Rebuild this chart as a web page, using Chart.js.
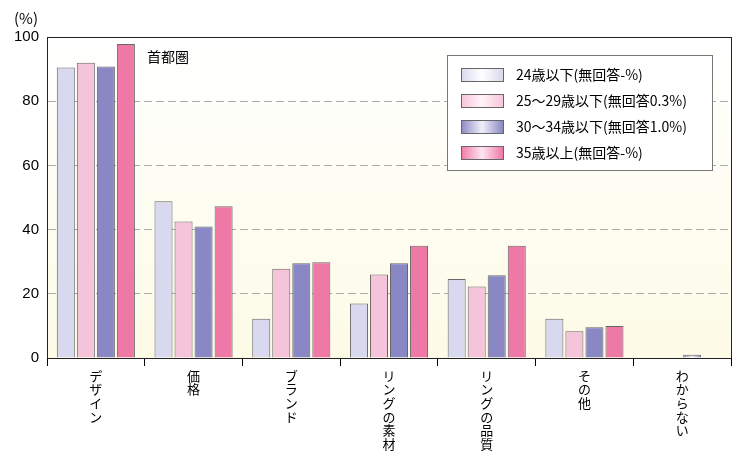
<!DOCTYPE html>
<html>
<head>
<meta charset="utf-8">
<script src="https://cdn.jsdelivr.net/npm/chart.js@4/dist/chart.umd.min.js"></script>
<style>
  body { margin: 0; background: #fff; }
  #wrap { width: 750px; height: 464px; }
</style>
</head>
<body>
<div id="wrap"><canvas id="chart"></canvas></div>
<script>
// データ
const categories = ['デザイン', '価格', 'ブランド', 'リングの素材', 'リングの品質', 'その他', 'わからない'];
const seriesNames = ['24歳以下(無回答-%)', '25～29歳以下(無回答0.3%)', '30～34歳以下(無回答1.0%)', '35歳以上(無回答-%)'];
const age24 = [90.5, 48.8, 12.2, 17.0, 24.6, 12.2, 0];
const age25 = [92.0, 42.5, 27.8, 26.0, 22.3, 8.3, 0];
const age30 = [90.8, 41.0, 29.5, 29.5, 25.8, 9.6, 1.0];
const age35 = [97.8, 47.3, 29.8, 35.0, 35.0, 10.0, 0];
const yTicks = [0, 20, 40, 60, 80, 100];

// 各系列のグラデーション (端の色, 中央の色)
const barColors = [
    ['#d8d8ee', '#ffffff'],
    ['#f6c4da', '#fff4f8'],
    ['#8a88c4', '#f0f0fa'],
    ['#ee78a6', '#fde6ef']
];

function makeGradient(ctx, x0, x1, c) {
    const g = ctx.createLinearGradient(x0, 0, x1, 0);
    g.addColorStop(0, c[0]);
    g.addColorStop(0.5, c[1]);
    g.addColorStop(1, c[0]);
    return g;
}

const decorPlugin = {
    id: 'decor',
    beforeDraw(chart) {
        const { ctx, chartArea: a } = chart;
        const g = ctx.createLinearGradient(0, a.top, 0, a.bottom);
        g.addColorStop(0, '#ffffff');
        g.addColorStop(1, '#fdfbe6');
        ctx.save();
        ctx.fillStyle = g;
        ctx.fillRect(a.left, a.top, a.right - a.left, a.bottom - a.top);
        ctx.restore();
    },
    beforeDatasetsDraw(chart) {
        const ctx = chart.ctx;
        chart.data.datasets.forEach((ds, i) => {
            chart.getDatasetMeta(i).data.forEach(bar => {
                const w = bar.width;
                bar.options.backgroundColor = makeGradient(ctx, bar.x - w / 2, bar.x + w / 2, barColors[i]);
            });
        });
    },
    afterDraw(chart) {
        const { ctx, chartArea: a } = chart;
        ctx.save();
        ctx.strokeStyle = '#222';
        ctx.lineWidth = 1;
        ctx.strokeRect(a.left + 0.5, a.top + 0.5, a.right - a.left, a.bottom - a.top);

        ctx.fillStyle = '#000';
        ctx.font = '15px "Noto Sans CJK JP", sans-serif';
        ctx.textBaseline = 'middle';
        ctx.fillText('(%)', 14, 18);
        ctx.font = '14px "Noto Sans CJK JP", sans-serif';
        ctx.fillText('首都圏', 147, 57);

        // 凡例ボックス
        const bx = 447, by = 55, bw = 265, bh = 115;
        ctx.fillStyle = '#fff';
        ctx.fillRect(bx, by, bw, bh);
        ctx.strokeStyle = '#777';
        ctx.strokeRect(bx + 0.5, by + 0.5, bw, bh);
        ctx.font = '14px "Noto Sans CJK JP", sans-serif';
        seriesNames.forEach((name, i) => {
            const y = by + 19 + i * 26;
            ctx.fillStyle = makeGradient(ctx, bx + 14, bx + 56, barColors[i]);
            ctx.fillRect(bx + 14, y - 6, 42, 13);
            ctx.strokeStyle = '#666';
            ctx.strokeRect(bx + 14.5, y - 5.5, 42, 13);
            ctx.fillStyle = '#000';
            ctx.fillText(name, bx + 69, y + 1);
        });
        ctx.restore();
    }
};

new Chart(document.getElementById('chart'), {
    type: 'bar',
    data: {
        labels: categories.map(c => c.split('')),
        datasets: [age24, age25, age30, age35].map((d, i) => ({
            label: seriesNames[i],
            data: d,
            backgroundColor: barColors[i][0],
            borderColor: '#666',
            borderWidth: 1,
            borderSkipped: 'bottom',
            categoryPercentage: 0.82,
            barPercentage: 0.9
        }))
    },
    options: {
        responsive: true,
        maintainAspectRatio: false,
        animation: false,
        layout: { padding: { top: 37, right: 19, left: 0, bottom: 0 } },
        plugins: { legend: { display: false }, tooltip: { enabled: false } },
        scales: {
            x: {
                grid: { display: true, drawOnChartArea: false, color: '#000', tickLength: 8, offset: true },
                border: { color: '#222' },
                ticks: {
                    color: '#000',
                    maxRotation: 0,
                    minRotation: 0,
                    font: { size: 13, family: '"Noto Sans CJK JP", sans-serif', lineHeight: 1.05 }
                },
                afterFit(scale) { scale.height = 106; }
            },
            y: {
                min: 0,
                max: 100,
                afterBuildTicks(scale) { scale.ticks = yTicks.map(v => ({ value: v })); },
                grid: {
                    color: ctx => (ctx.tick && (ctx.tick.value === 0 || ctx.tick.value === 100)) ? 'rgba(0,0,0,0)' : '#aaa',
                    drawTicks: false
                },
                border: { color: '#222', dash: [8, 4] },
                ticks: {
                    color: '#000',
                    padding: 8,
                    font: { size: 15, family: 'Liberation Sans, sans-serif' }
                },
                afterFit(scale) { scale.width = 47; }
            }
        }
    },
    plugins: [decorPlugin]
});
</script>
</body>
</html>
